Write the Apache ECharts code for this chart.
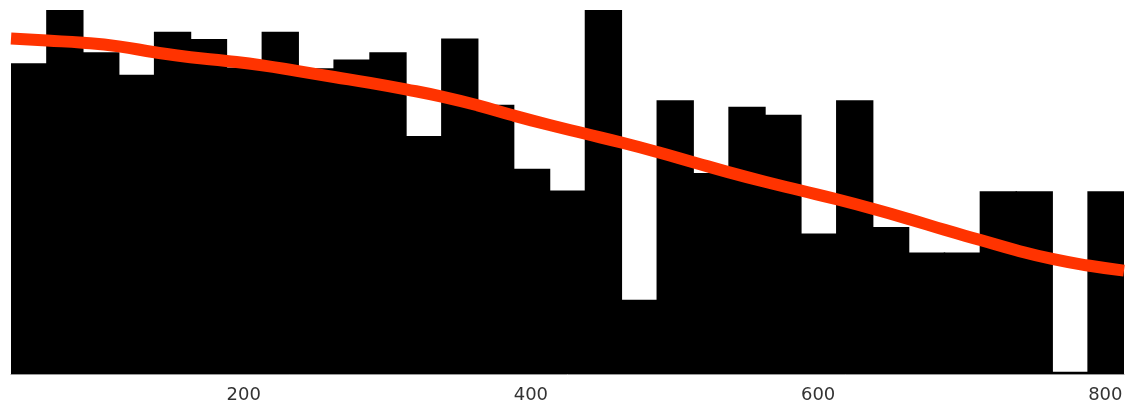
<!DOCTYPE html>
<html>
<head>
<meta charset="utf-8">
<script src="https://cdn.jsdelivr.net/npm/echarts@6/dist/echarts.min.js"></script>
<style>
  html, body { margin: 0; padding: 0; background: #fff; }
  #chart { width: 1136px; height: 407px; }
</style>
</head>
<body>
<div id="chart"></div>
<script>
// Histogram bin edges (x values)
var binEdges = [38, 63, 88, 113, 138, 163, 188, 213, 238, 263, 288, 313, 338, 363, 388, 413,
                438, 463, 488, 513, 538, 563, 588, 613, 638, 663, 688, 713, 738, 763, 788, 813];
// Bar heights per bin
var binCounts = [42.7, 50.0, 44.2, 41.1, 47.0, 46.0, 42.1, 47.0, 42.0, 43.2, 44.2, 32.7, 46.1, 37.0, 28.2, 25.2,
                 50.0, 10.2, 37.6, 27.6, 36.7, 35.6, 19.3, 37.6, 20.2, 16.7, 16.7, 25.1, 25.1, 0.3, 25.1];
// Smoothed curve read at each bin edge
var curveValues = [46.1, 45.8, 45.5, 45.0, 44.2, 43.5, 43.0, 42.4, 41.6, 40.8, 40.0, 39.1, 38.1, 36.9, 35.5, 34.2,
                   33.0, 31.8, 30.5, 29.1, 27.7, 26.4, 25.2, 24.0, 22.7, 21.3, 19.8, 18.4, 17.0, 15.8, 14.9, 14.2];
var tickLabels = [200, 400, 600, 800];

var binCategories = binCounts.map(function (_, i) { return binEdges[i] + '-' + binEdges[i + 1]; });
var curveData = curveValues.map(function (v, i) { return [binEdges[i], v]; });

var chart = echarts.init(document.getElementById('chart'), null, { renderer: 'canvas' });
chart.setOption({
  animation: false,
  backgroundColor: '#ffffff',
  grid: { left: 11, right: 12, top: 10, bottom: 33, show: false },
  xAxis: [
    {
      type: 'category', data: binCategories, show: false,
      boundaryGap: true,
      axisLine: { show: false }, axisTick: { show: false }, axisLabel: { show: false },
      splitLine: { show: false }, splitArea: { show: false }
    },
    {
      type: 'value', min: binEdges[0], max: binEdges[binEdges.length - 1],
      position: 'bottom',
      axisLine: { show: true, lineStyle: { color: '#999', width: 1 } },
      axisTick: { show: false },
      splitLine: { show: false }, splitArea: { show: false },
      axisLabel: {
        show: true, margin: 12, color: '#333', fontSize: 18,
        fontFamily: 'DejaVu Sans',
        showMinLabel: false, showMaxLabel: false,
        formatter: function (v) { return tickLabels.indexOf(v) >= 0 ? String(v) : ''; }
      }
    }
  ],
  yAxis: { type: 'value', min: 0, max: 50, show: false, splitLine: { show: false }, splitArea: { show: false } },
  series: [
    {
      type: 'bar', xAxisIndex: 0, data: binCounts,
      barWidth: '104%',
      itemStyle: { color: '#000000' }
    },
    {
      type: 'line', xAxisIndex: 1, data: curveData, smooth: true,
      showSymbol: false, symbol: 'none',
      lineStyle: { color: '#ff3300', width: 12, cap: 'butt' },
      z: 3
    }
  ]
});
</script>
</body>
</html>
